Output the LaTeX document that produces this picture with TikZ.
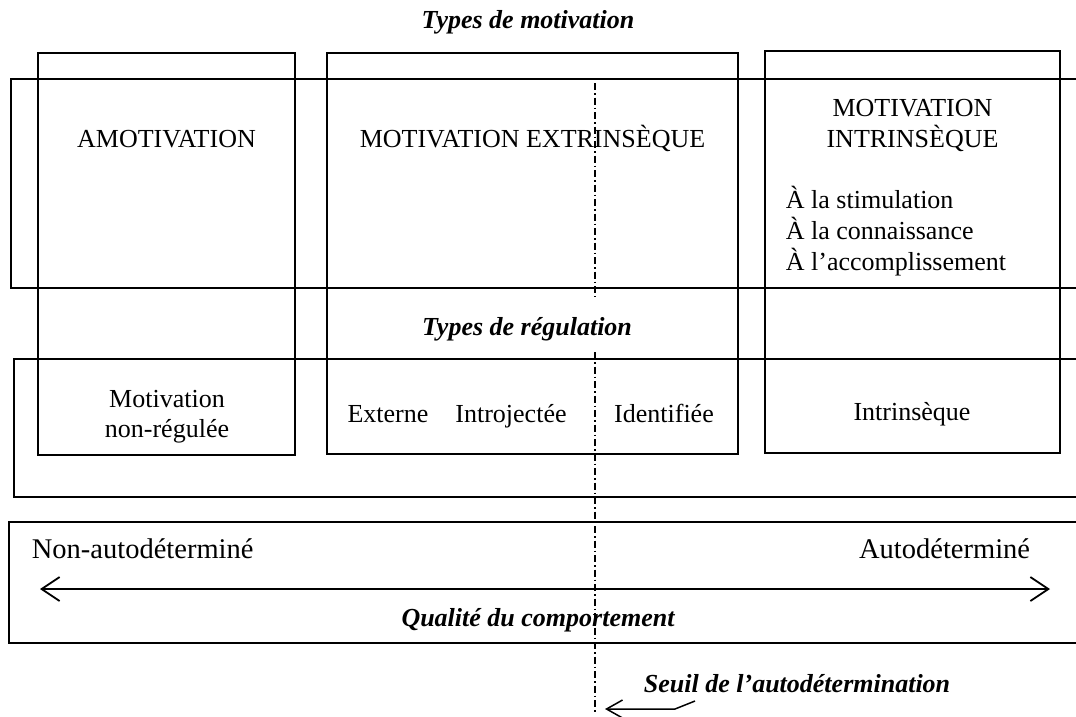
\documentclass[tikz,border=0pt]{standalone}
\usepackage{fontspec}
\setmainfont{Liberation Serif}
\usetikzlibrary{arrows.meta}
\begin{document}
\begin{tikzpicture}[x=1pt,y=-1pt,line width=1.8pt,
  frame/.style={draw,line width=1.8pt},
  txt/.style={inner sep=0pt,anchor=base,font=\fontsize{26}{31}\selectfont},
  ttl/.style={txt,font=\fontsize{26}{31}\selectfont\bfseries\itshape},
  big/.style={txt,font=\fontsize{28.5}{34}\selectfont},
  seuilline/.style={draw,line width=1.8pt,dash pattern=on 7pt off 3pt on 1.5pt off 3pt}]
\useasboundingbox (0,0) rectangle (1076,716);
\clip (0,0) rectangle (1076,716);
% columns
\draw[frame] (38,53) rectangle (295,455);
\draw[frame] (327,53) rectangle (738,454);
\draw[frame] (765,51) rectangle (1060,453);
% bands
\draw[frame] (11,79) rectangle (1095,288);
\draw[frame] (14,359) rectangle (1095,497);
\draw[frame] (9,522) rectangle (1095,643);
% threshold line
\draw[seuilline] (595,83) -- (595,297);
\draw[seuilline] (595,352) -- (595,712);
% texts
\node[ttl] (t1) at (528,28) {Types de motivation};
\node[txt] (amot) at (166.5,147) {AMOTIVATION};
\node[txt] (mext) at (532.5,147) {MOTIVATION EXTRINSÈQUE};
\node[txt] (mint1) at (912.5,116) {MOTIVATION};
\node[txt] (mint2) at (912.5,147) {INTRINSÈQUE};
\node[txt,anchor=base west] (a1) at (785,208) {À la stimulation};
\node[txt,anchor=base west] (a2) at (785,239) {À la connaissance};
\node[txt,anchor=base west] (a3) at (785,270) {À l’accomplissement};
\node[ttl] (treg) at (527,335) {Types de régulation};
\node[txt] (mnr1) at (167,407) {Motivation};
\node[txt] (mnr2) at (167,437) {non-régulée};
\node[txt] (ext) at (388,422) {Externe};
\node[txt] (intro) at (511,422) {Introjectée};
\node[txt] (ident) at (664,422) {Identifiée};
\node[txt] (intr) at (912,420) {Intrinsèque};
\node[big,anchor=base west] (nonad) at (31,558) {Non-autodéterminé};
\node[big,anchor=base east] (ad) at (1031,558) {Autodéterminé};
\node[ttl] (qual) at (538,626) {Qualité du comportement};
\node[ttl,anchor=base west] (seuil) at (643,692) {Seuil de l’autodétermination};
% arrows
\coordinate (L) at (40,589);
\coordinate (R) at (1050,589);
\draw[{Straight Barb[length=18pt,width=24pt]}-{Straight Barb[length=18pt,width=24pt]}] (L) -- (R);
\coordinate (s1) at (695,701);
\coordinate (s2) at (675,709);
\coordinate (s3) at (605,709);
\draw[line width=1.5pt,-{Straight Barb[length=16pt,width=18pt]}] (s1) -- (s2) -- (s3);
\end{tikzpicture}
\end{document}
